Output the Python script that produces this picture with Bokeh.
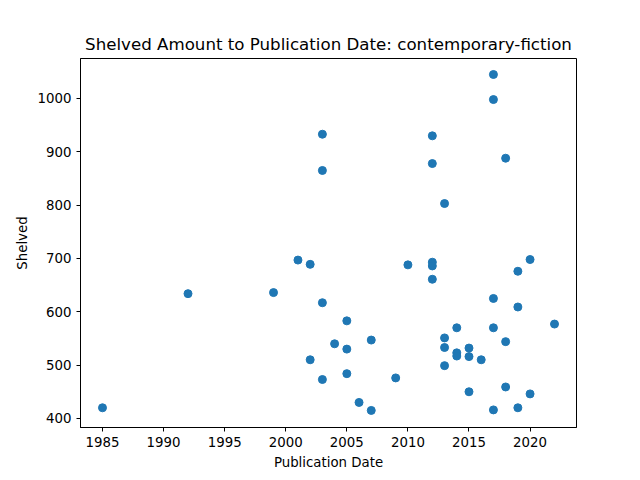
from bokeh.plotting import figure
from bokeh.embed import file_html
from bokeh.resources import INLINE
from bokeh.models import Range1d, FixedTicker

years = [1985,1992,1999,2001,2002,2002,2003,2003,2003,2003,2004,2005,2005,2005,2006,2007,2007,2009,2010,
         2012,2012,2012,2012,2012,2013,2013,2013,2013,2014,2014,2014,2015,2015,2015,2016,
         2017,2017,2017,2017,2017,2018,2018,2018,2019,2019,2019,2020,2020,2022]
shelved = [420,634,636,697,689,510,933,865,617,473,540,583,530,484,430,547,415,476,688,
           930,878,693,686,661,803,551,533,499,570,523,517,532,516,450,510,
           1045,998,625,570,416,888,544,459,676,609,420,698,446,577]

p = figure(output_backend="svg", toolbar_location=None,
           frame_width=496, frame_height=369,
           min_border_left=80, min_border_right=48, min_border_top=58, min_border_bottom=37,
           x_range=Range1d(1983.2, 2023.8), y_range=Range1d(383, 1075),
           title="Shelved Amount to Publication Date: contemporary-fiction",
           x_axis_label="Publication Date", y_axis_label="Shelved")
p.scatter(years, shelved, size=8, color="#1f77b4")
p.xaxis.ticker = FixedTicker(ticks=[1985,1990,1995,2000,2005,2010,2015,2020])
p.yaxis.ticker = FixedTicker(ticks=[400,500,600,700,800,900,1000])
p.xgrid.visible = False
p.ygrid.visible = False
p.title.align = "center"
p.title.text_font_size = "12.5pt"
p.title.text_font_style = "normal"
p.title.text_font = "DejaVu Sans"
p.title.text_color = "black"
for ax in (p.xaxis[0], p.yaxis[0]):
    ax.axis_label_text_font_style = "normal"
    ax.axis_label_text_font = "DejaVu Sans"
    ax.axis_label_text_font_size = "10pt"
    ax.major_label_text_font = "DejaVu Sans"
    ax.major_label_text_font_size = "10pt"
    ax.minor_tick_line_color = None
    ax.major_tick_out = 4
    ax.major_tick_in = 0
    ax.axis_line_color = "black"
    ax.major_label_text_color = "black"
    ax.axis_label_text_color = "black"
p.outline_line_color = "black"
p.yaxis.major_label_orientation = "horizontal"
open("out.html", "w").write(file_html(p, INLINE))
